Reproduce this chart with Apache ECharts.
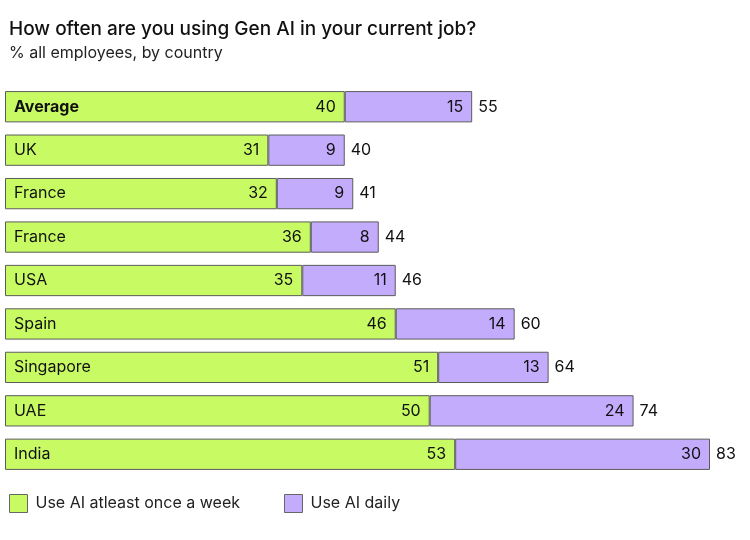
<!DOCTYPE html>
<html><head><meta charset="utf-8">
<script src="https://cdn.jsdelivr.net/npm/echarts@6/dist/echarts.min.js"></script>
<style>html,body{margin:0;padding:0;background:#fff}#c{width:750px;height:540px}</style>
</head><body><div id="c"></div>
<script>
const categories = ['Average','UK','France','France','USA','Spain','Singapore','UAE','India'];
const weekly = [40,31,32,36,35,46,51,50,53];
const daily = [15,9,9,8,11,14,13,24,30];
const totals = weekly.map((v,i)=>v+daily[i]);
const FONT = 'Inter, "DejaVu Sans", sans-serif';
const chart = echarts.init(document.getElementById('c'));
chart.setOption({
  animation:false,
  textStyle:{fontFamily:FONT},
  title:{
    text:'How often are you using Gen AI in your current job?',
    subtext:'% all employees, by country',
    left:4, top:15, itemGap:6,
    textStyle:{fontFamily:FONT,fontSize:19,fontWeight:500,color:'#111'},
    subtextStyle:{fontFamily:FONT,fontSize:16,color:'#222'}
  },
  legend:{
    left:4, top:489, itemWidth:18, itemHeight:18, itemGap:44, icon:'rect',
    itemStyle:{borderWidth:1,borderColor:'#666'},
    textStyle:{fontFamily:FONT,fontSize:16,color:'#222',padding:[0,0,0,3]},
    data:['Use AI atleast once a week','Use AI daily']
  },
  grid:{left:5, top:85, width:722, height:391, containLabel:false, outerBoundsMode:'none'},
  xAxis:{type:'value',min:0,max:85,show:false},
  yAxis:{type:'category',data:categories,inverse:true,
    axisLine:{show:false},axisTick:{show:false},
    axisLabel:{inside:true,margin:9,fontSize:16,color:'#111',fontFamily:FONT,
      formatter:(v,i)=> i===0 ? '{b|'+v+'}' : v,
      rich:{b:{fontWeight:'bold',fontSize:16,fontFamily:FONT,color:'#111'}}},
    z:10},
  series:[
    {name:'Use AI atleast once a week',type:'bar',stack:'s',data:weekly,barCategoryGap:'28%',
     itemStyle:{color:'#c8fa64',borderColor:'#5c5c5c',borderWidth:1},
     label:{show:true,position:'insideRight',distance:9,fontSize:16,color:'#111',fontFamily:FONT}},
    {name:'Use AI daily',type:'bar',stack:'s',data:daily,
     itemStyle:{color:'#c4acfc',borderColor:'#5c5c5c',borderWidth:1},
     label:{show:true,position:'insideRight',distance:9,fontSize:16,color:'#111',fontFamily:FONT}},
    {name:'total',type:'scatter',data:totals.map((t,i)=>[t,i]),symbolSize:0,
     itemStyle:{opacity:1,color:'#111'},
     label:{show:true,position:'right',distance:6,fontSize:16,color:'#111',fontFamily:FONT,
       formatter:p=>p.value[0]}}
  ]
});
</script></body></html>
